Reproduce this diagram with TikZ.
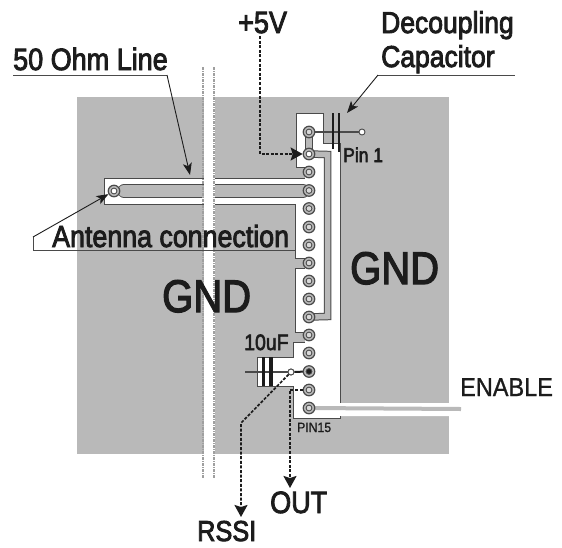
\documentclass[tikz,border=0pt]{standalone}
\usepackage{fontspec}
\newfontfamily\boldlab{Liberation Sans}[FakeBold=3]
\newfontfamily\plainlab{Liberation Sans}[FakeBold=1]
\usetikzlibrary{arrows.meta}
\definecolor{gndgray}{HTML}{B9B9B9}
\definecolor{edge}{HTML}{4A4A4A}
\definecolor{ink}{HTML}{1C1C1C}
\newcommand{\lbl}[2]{\scalebox{1}[1.14]{\boldlab\fontsize{#1}{#1}\selectfont #2}}
\newcommand{\lblp}[2]{\scalebox{1}[1.1]{\plainlab\fontsize{#1}{#1}\selectfont #2}}
\tikzset{
  lab/.style={inner sep=0pt,anchor=base west,text=ink},
  pinpad/.style={circle,draw=edge,line width=1.2pt,fill=gndgray,minimum size=11.5pt,inner sep=0pt,
    path picture={\fill[edge] (path picture bounding box.center) circle (3.4pt);
                  \fill[#1] (path picture bounding box.center) circle (2.3pt);}},
  pinpad/.default={gray!30},
  tiedot/.style={circle,draw=edge,line width=.9pt,fill=white,minimum size=6pt,inner sep=0pt},
  outline/.style={draw=edge,line width=1pt},
  thinarrow/.style={draw=ink,line width=.9pt,-{Stealth[length=12pt,width=9pt,inset=3pt]}},
  leader/.style={draw=edge,line width=1pt},
  sigdash/.style={draw=ink,line width=1.7pt,dash pattern=on 3pt off 1.6pt},
  sigarrow/.style={sigdash,-{Stealth[length=12pt,width=13pt,inset=2pt]}},
  plate/.style={draw=ink},
  breakline/.style={draw=gray!75,line width=1.5pt,dash pattern=on 3pt off 1pt on 1pt off 1pt},
}
\begin{document}
\begin{tikzpicture}[x=1pt,y=-1pt]
\useasboundingbox (0,0) rectangle (562,547);
% ground plane
\fill[gndgray] (77,97) rectangle (449,454);
% clearance
\fill[white] (340,403) -- (340,143) -- (323,143) -- (323,113) -- (296,113) -- (296,167) -- (305,167)
  -- (305,178) -- (104,178) -- (104,204) -- (295,204) -- (295,258) -- (305,258) -- (305,268) -- (295,268)
  -- (295,332) -- (305,332) -- (305,342) -- (293,342) -- (293,357) -- (257,357) -- (257,386) -- (293,386)
  -- (293,418) -- (340,418) -- (340,416) -- (449,416) -- (449,403) -- cycle;
\path[outline] (340,403) -- (340,143) -- (323,143) -- (323,113) -- (296,113) -- (296,167) -- (305,167);
\path[outline] (305,178) -- (104,178) -- (104,204) -- (295,204) -- (295,258) -- (305,258);
\path[outline] (305,268) -- (295,268) -- (295,332) -- (305,332);
\path[outline] (305,342) -- (293,342) -- (293,357) -- (257,357) -- (257,386) -- (293,386) -- (293,418) -- (340,418) -- (340,416);
% pads
\foreach \n/\y in {1/132,2/154,3/172,4/190.5,5/208.5,6/227,7/245,8/263,9/281,10/299,11/317,12/335,13/353,14/371.5,15/390,16/408}
  \coordinate (c\n) at (309,\y);
\coordinate (cant) at (114,191);
% traces
\draw[edge,line width=8.5pt] (c1) -- (c2);
\draw[gndgray,line width=6.5pt] (c1) -- (c2);
\draw[edge,line width=7.5pt,line join=miter] (c2) -- (327.5,154.5) -- (327.5,316.5) -- (c11);
\draw[gndgray,line width=5.5pt,line join=miter] (c2) -- (327.5,154.5) -- (327.5,316.5) -- (c11);
\draw[edge,line width=13.2pt,line cap=round] (124,191) -- (303,191);
\draw[gndgray,line width=12pt,line cap=round] (124,191) -- (303,191);
\draw[gndgray,line width=6pt] (cant) -- (124,191);
\draw[gndgray,line width=4pt] (c16) -- (461,409);
% capacitor wiring
\node[tiedot] (captop) at (362,132) {};
\node[tiedot] (capten) at (291,372) {};
\coordinate (tenleft) at (245,372);
\draw[edge,line width=1.2pt] (c1) -- (captop);
\draw[plate,line width=2.4pt] (333,113) -- (333,149);
\draw[plate,line width=2.4pt] (339,113) -- (339,152);
\draw[edge,line width=1.2pt] (tenleft) -- (capten);
\draw[ink,line width=2pt] (capten) -- (c14);
\draw[plate,line width=2.2pt] (263.5,357) -- (263.5,386);
\draw[plate,line width=4.4pt] (271,357) -- (271,386);
% pad nodes
\foreach \n in {1,3,4,5,6,7,8,9,10,11,12,13,15,16}
  \node[pinpad] (p\n) at (c\n) {};
\node[pinpad=white] (p2) at (c2) {};
\node[pinpad=ink] (p14) at (c14) {};
\node[pinpad=white] (pant) at (cant) {};
\node[tiedot] at (capten) {};
% board break
\fill[white] (204,90) rectangle (215,460);
\draw[breakline] (203,67) -- (203,479);
\draw[breakline] (214,67) -- (214,479);
% labels
\node[lab] (ohm) at (13,70) {\lbl{27}{50 Ohm Line}};
\node[lab] (five) at (238,33) {\lbl{27}{+5V}};
\node[lab] (dec) at (381,33) {\lbl{26.5}{Decoupling}};
\node[lab] (cap) at (381,67) {\lbl{26.5}{Capacitor}};
\node[lab] (ant) at (52,247) {\lbl{26.8}{Antenna connection}};
\node[lab] (gndl) at (162,312) {\lbl{40}{GND}};
\node[lab] (gndr) at (350,284) {\lbl{40}{GND}};
\node[lab] (ten) at (244,350) {\lbl{19.5}{10uF}};
\node[lab] (pone) at (343,162) {\lbl{17.5}{Pin 1}};
\node[lab] (pfif) at (297,432) {\lblp{12.2}{PIN15}};
\node[lab] (en) at (460,396) {\lblp{23.5}{ENABLE}};
\node[lab] (out) at (270,513) {\lbl{27}{OUT}};
\node[lab] (rssi) at (197,541) {\lbl{25.3}{RSSI}};
% leaders
\coordinate (ohmL) at (13,75); \coordinate (ohmR) at (167,75);
\coordinate (decL) at (378,75); \coordinate (decR) at (515,75);
\coordinate (antL) at (33,250); \coordinate (antR) at (295,250); \coordinate (antK) at (33,237);
\coordinate (capTip) at (347,113); \coordinate (lineTip) at (190,175);
\path[leader] (ohmL) -- (ohmR);
\path[leader] (decL) -- (decR);
\path[leader] (antR) -- (antL) -- (antK);
\path[thinarrow] (ohmR) -- (lineTip);
\path[thinarrow] (decL) -- (capTip);
\path[thinarrow] (antK) -- (pant);
% signals
\coordinate (fvTop) at (260,36); \coordinate (fvK) at (260,154);
\coordinate (rsK) at (241,423); \coordinate (rsTip) at (241,517);
\coordinate (outK) at (290,390); \coordinate (outTip) at (290,488);
\path[sigarrow] (fvTop) -- (fvK) -- (p2);
\path[sigarrow] (capten) -- (rsK) -- (rsTip);
\path[sigarrow] (p15) -- (outK) -- (outTip);
\end{tikzpicture}
\end{document}
